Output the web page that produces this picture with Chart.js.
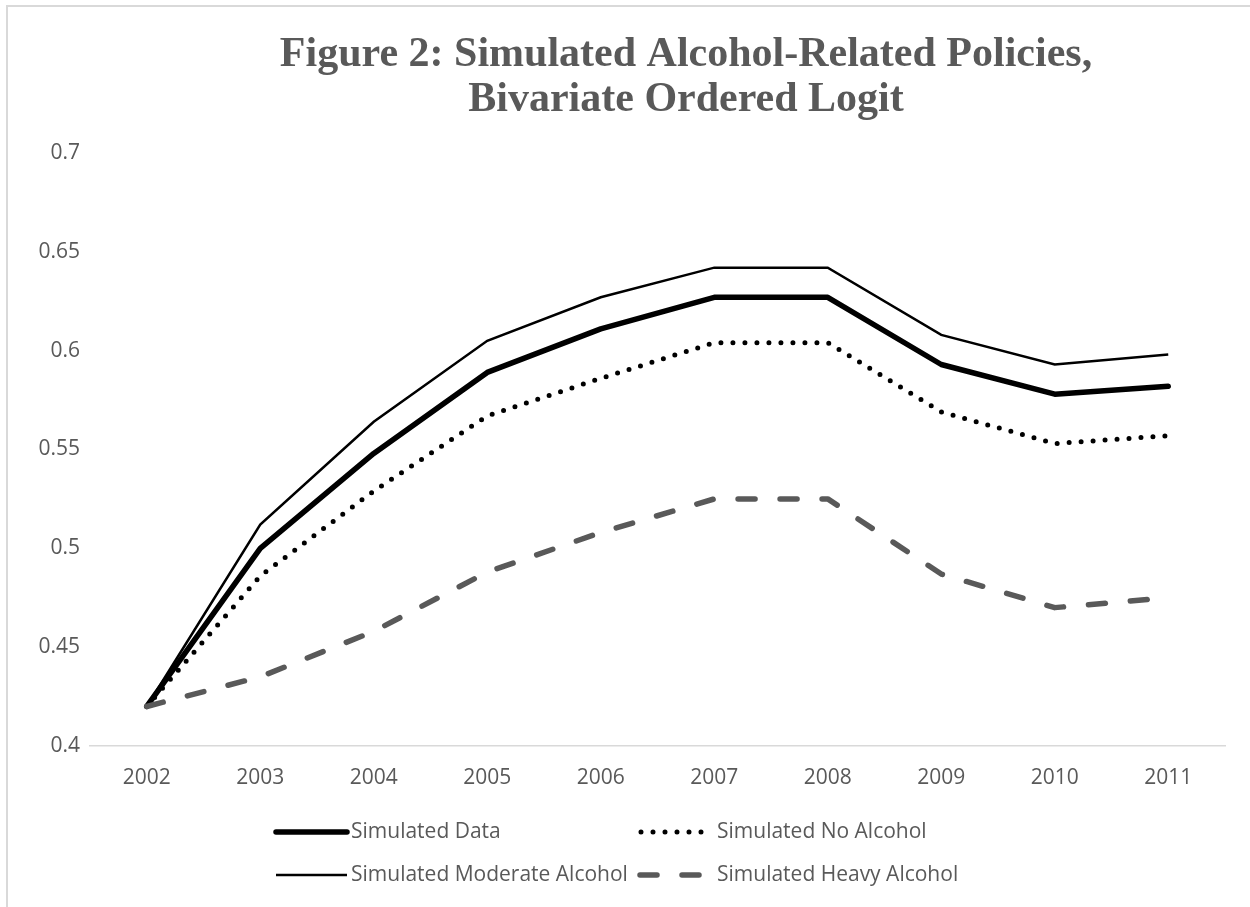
<!DOCTYPE html>
<html>
<head>
<meta charset="utf-8">
<script src="https://cdn.jsdelivr.net/npm/chart.js@4"></script>
<style>
    html, body {
        margin: 0;
        padding: 0;
        background: #fff;
        overflow: hidden;
    }
    .chart {
        position: absolute;
        left: 6px;
        top: 5px;
        width: 1360px;
        height: 928px;
        border-left: 2px solid #d9d9d9;
        border-top: 2px solid #d9d9d9;
    }
</style>
</head>
<body>
<div class="chart">
    <canvas id="canva" width="1360" height="928"></canvas>
</div>
<script>
const years = ['2002', '2003', '2004', '2005', '2006', '2007', '2008', '2009', '2010', '2011'];

const simulatedData = [0.42, 0.5, 0.548, 0.589, 0.611, 0.627, 0.627, 0.593, 0.578, 0.582];
const noAlcohol = [0.42, 0.486, 0.529, 0.567, 0.586, 0.604, 0.604, 0.569, 0.553, 0.557];
const moderateAlcohol = [0.42, 0.512, 0.564, 0.605, 0.627, 0.642, 0.642, 0.608, 0.593, 0.598];
const heavyAlcohol = [0.42, 0.435, 0.458, 0.488, 0.508, 0.525, 0.525, 0.487, 0.47, 0.475];

const titleLines = ['Figure 2: Simulated Alcohol-Related Policies,', 'Bivariate Ordered Logit'];

const textColor = '#595959';
const sansFont = '"Open Sans", sans-serif';

// title, centred over the whole chart box (which runs past the page edge)
const titlePlugin = {
    id: 'figureTitle',
    afterDraw(chart) {
        const ctx = chart.ctx;
        ctx.save();
        ctx.fillStyle = textColor;
        ctx.font = 'bold 42px "Liberation Serif", serif';
        ctx.textAlign = 'center';
        ctx.textBaseline = 'alphabetic';
        ctx.fillText(titleLines[0], 678, 59);
        ctx.fillText(titleLines[1], 678, 104);
        ctx.restore();
    },
};

// two-column legend under the x axis
const legendPlugin = {
    id: 'gridLegend',
    afterDraw(chart) {
        const ctx = chart.ctx;
        const slots = [
            { x0: 268, x1: 339, tx: 343, y: 825 },
            { x0: 633, x1: 697, tx: 709, y: 825 },
            { x0: 268, x1: 339, tx: 343, y: 868 },
            { x0: 632, x1: 697, tx: 709, y: 868 },
        ];
        chart.data.datasets.forEach((ds, i) => {
            const s = slots[i];
            ctx.save();
            ctx.strokeStyle = ds.borderColor;
            ctx.lineWidth = ds.borderWidth;
            ctx.lineCap = ds.borderCapStyle || 'butt';
            ctx.setLineDash(ds.borderDash || []);
            ctx.beginPath();
            ctx.moveTo(s.x0, s.y);
            ctx.lineTo(s.x1, s.y);
            ctx.stroke();
            ctx.setLineDash([]);
            ctx.fillStyle = textColor;
            ctx.font = '21px ' + sansFont;
            ctx.textAlign = 'left';
            ctx.textBaseline = 'middle';
            ctx.fillText(ds.label, s.tx, s.y);
            ctx.restore();
        });
    },
};

const ctx = document.querySelector('#canva').getContext('2d');

new Chart(ctx, {
    type: 'line',
    data: {
        labels: years,
        datasets: [
            {
                label: 'Simulated Data',
                data: simulatedData,
                borderColor: '#000000',
                borderWidth: 5.5,
                borderCapStyle: 'round',
                borderJoinStyle: 'round',
                order: 4,
            },
            {
                label: 'Simulated No Alcohol',
                data: noAlcohol,
                borderColor: '#000000',
                borderWidth: 5,
                borderDash: [0, 12],
                borderCapStyle: 'round',
                borderJoinStyle: 'round',
                order: 3,
            },
            {
                label: 'Simulated Moderate Alcohol',
                data: moderateAlcohol,
                borderColor: '#000000',
                borderWidth: 2.5,
                borderJoinStyle: 'miter',
                order: 2,
            },
            {
                label: 'Simulated Heavy Alcohol',
                data: heavyAlcohol,
                borderColor: '#595959',
                borderWidth: 5.5,
                borderDash: [17, 25],
                borderCapStyle: 'round',
                borderJoinStyle: 'round',
                order: 1,
            },
        ],
    },
    options: {
        responsive: false,
        animation: false,
        devicePixelRatio: 1,
        elements: {
            point: { radius: 0 },
            line: { tension: 0 },
        },
        layout: {
            padding: { top: 146, right: 143, bottom: 139, left: 0 },
        },
        scales: {
            x: {
                offset: true,
                grid: { display: false, drawTicks: false },
                border: { display: true, color: '#d9d9d9', width: 1.5 },
                ticks: {
                    color: textColor,
                    font: { family: sansFont, size: 21 },
                    padding: 19,
                    maxRotation: 0,
                },
                afterFit(scale) {
                    scale.height = 50;
                },
            },
            y: {
                min: 0.4,
                max: 0.7,
                grid: { display: false, drawTicks: false },
                border: { display: false },
                ticks: {
                    stepSize: 0.05,
                    color: textColor,
                    font: { family: sansFont, size: 21 },
                    padding: 10,
                    callback: (value) => String(Number(value.toFixed(2))),
                },
                afterFit(scale) {
                    scale.width = 82;
                },
            },
        },
        plugins: {
            legend: { display: false },
            title: { display: false },
            tooltip: { enabled: false },
        },
    },
    plugins: [titlePlugin, legendPlugin],
});
</script>
</body>
</html>
